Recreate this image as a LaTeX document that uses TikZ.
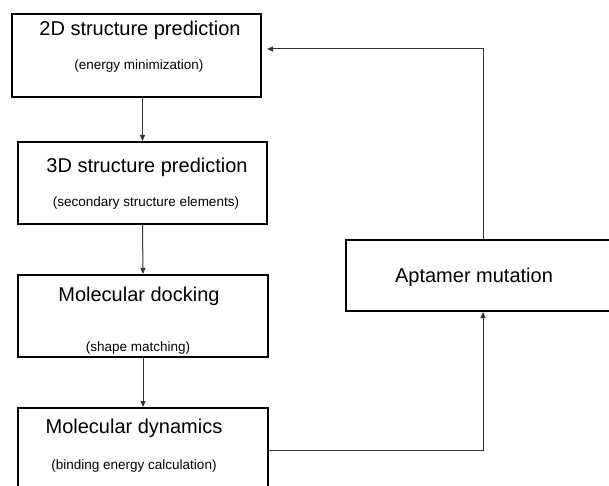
\documentclass[tikz,border=0pt]{standalone}
\usepackage{fontspec}
\setmainfont{Liberation Sans}
\usetikzlibrary{arrows.meta,calc}
\begin{document}
\begin{tikzpicture}[x=1pt,y=-1pt,
  box/.style={draw=black,line width=2pt,rectangle,inner sep=0pt},
  ttl/.style={inner sep=0pt,font=\fontsize{20}{24}\selectfont},
  sub/.style={inner sep=0pt,font=\fontsize{13.5}{16}\selectfont},
  conn/.style={draw=black!80,line width=1pt,-{Triangle[length=6pt,width=5pt]}}]
\useasboundingbox (0,0) rectangle (609,486);
\node[box,minimum width=249pt,minimum height=83pt] (b1) at (136.5,55.5) {};
\node[box,minimum width=249pt,minimum height=82pt] (b2) at (142.5,183) {};
\node[box,minimum width=250pt,minimum height=82pt] (b3) at (143,316) {};
\node[box,minimum width=250pt,minimum height=84pt] (b4) at (143,450) {};
\node[box,minimum width=274pt,minimum height=71pt] (apt) at (483,275.5) {};
\node[ttl] (t1) at (140,30) {2D structure prediction};
\node[sub] (s1) at (139,66) {(energy minimization)};
\node[ttl] (t2) at (147,167) {3D structure prediction};
\node[sub] (s2) at (146,203) {(secondary structure elements)};
\node[ttl] (t3) at (139,296) {Molecular docking};
\node[sub] (s3) at (138,348) {(shape matching)};
\node[ttl] (t4) at (134,428) {Molecular dynamics};
\node[sub] (s4) at (134,466) {(binding energy calculation)};
\node[ttl] (ta) at (474,277) {Aptamer mutation};
\coordinate (tip) at (267,49);
\draw[conn] (b2.north |- b1.south) -- (b2.north);
\draw[conn] (b2.south) -- (b3.north);
\draw[conn] (b3.south) -- (b4.north);
\draw[conn] (b4.east) -| (apt.south);
\draw[conn] (apt.north) |- (tip);
\end{tikzpicture}
\end{document}
